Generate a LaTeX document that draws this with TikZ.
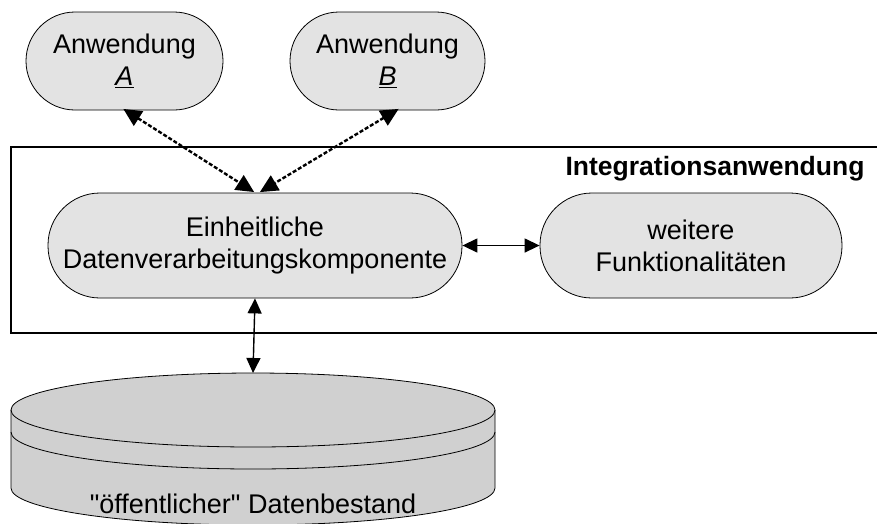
\documentclass[tikz,border=0pt]{standalone}
\usepackage{fontspec}
\setmainfont{Liberation Sans}[Ligatures=TeXOff]
\usetikzlibrary{arrows.meta,calc}
\definecolor{nodegray}{HTML}{E3E3E3}
\definecolor{dbgray}{HTML}{D0D0D0}
\tikzset{
  txt/.style={font=\fontsize{27}{32}\selectfont},
  pill/.style={txt, draw=black, line width=0.8pt, fill=nodegray, align=center, inner sep=0pt},
  dashlink/.style={line width=2.4pt, dash pattern=on 4pt off 2pt, {Triangle[length=18pt,width=17pt]}-{Triangle[length=18pt,width=17pt]}, shorten <=1pt, shorten >=1pt},
  solidlink/.style={line width=1.4pt, {Triangle[length=15pt,width=14pt]}-{Triangle[length=15pt,width=14pt]}},
}
\begin{document}
\begin{tikzpicture}[x=1pt,y=-1pt]
\clip (0,0) rectangle (877,523);
% outer frame
\draw[line width=1.4pt] (890,147) -- (11,147) -- (11,333) -- (890,333);
\node[txt, font=\fontsize{26.5}{32}\selectfont\bfseries, anchor=base east] (int) at (868,175) {Integrationsanwendung};
% nodes
\node[pill, minimum width=197pt, minimum height=98pt, rounded corners=49pt] (A) at (124.5,61) {Anwendung\\\underline{\textit{A}}};
\node[pill, minimum width=195pt, minimum height=98pt, rounded corners=49pt] (B) at (387.5,61) {Anwendung\\\underline{\textit{B}}};
\node[pill, minimum width=414pt, minimum height=105pt, rounded corners=52pt] (E) at (255,245.5) {Einheitliche\\Datenverarbeitungskomponente};
\node[pill, minimum width=302pt, minimum height=105pt, rounded corners=52pt] (W) at (691,245.5) {weitere\\Funktionalitäten};
% database cylinder
\draw[line width=0.8pt, fill=dbgray] (11,410) -- (11,488) arc[start angle=180, end angle=0, x radius=242, y radius=37] -- (495,410) arc[start angle=0, end angle=-180, x radius=242, y radius=37] -- cycle;
\draw[line width=0.8pt] (11,410) arc[start angle=180, end angle=0, x radius=242, y radius=37];
\draw[line width=0.8pt] (11,432) arc[start angle=180, end angle=0, x radius=242, y radius=37];
\coordinate (dbtop) at (253,373);
\node[txt, anchor=base] (db) at (253,513) {"öffentlicher" Datenbestand};
% connectors
\draw[dashlink] ([xshift=-2pt,yshift=2pt]A.south) -- ([yshift=0pt]E.north);
\draw[dashlink] ([xshift=12pt,yshift=2pt]B.south) -- ([xshift=4pt]E.north);
\draw[solidlink] (E.east) -- (W.west);
\draw[solidlink] (E.south) -- (dbtop);
\end{tikzpicture}
\end{document}
